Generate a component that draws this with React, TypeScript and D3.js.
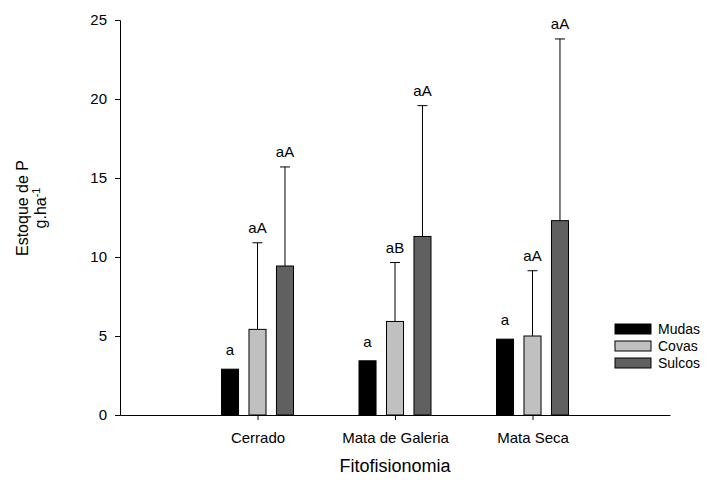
import React, { useEffect, useRef } from 'react';
import * as d3 from 'd3';

const categories = ['Cerrado', 'Mata de Galeria', 'Mata Seca'];
const seriesNames = ['Mudas', 'Covas', 'Sulcos'];
const seriesColors = ['#000000', '#c0c0c0', '#606060'];

// mean values per category, one array per series
const mudas = [2.9, 3.43, 4.8];
const covas = [5.42, 5.92, 5.0];
const sulcos = [9.43, 11.3, 12.3];

// top of the error bar (mean + error); null = no bar
const mudasErr: (number | null)[] = [null, null, null];
const covasErr: (number | null)[] = [10.9, 9.65, 9.13];
const sulcosErr: (number | null)[] = [15.7, 19.58, 23.8];

// letters over bars
const mudasLabels = ['a', 'a', 'a'];
const covasLabels = ['aA', 'aB', 'aA'];
const sulcosLabels = ['aA', 'aA', 'aA'];

const yTicks = [0, 5, 10, 15, 20, 25];

export default function App() {
    const ref = useRef<SVGSVGElement>(null);

    useEffect(() => {
        const svg = d3.select(ref.current);
        svg.selectAll('*').remove();

        const font = 'Liberation Sans, Arial, sans-serif';
        const left = 120, right = 670, top = 20, bottom = 415;

        const x = d3.scalePoint<string>().domain(categories).range([left, right]).padding(1);
        const inner = d3.scaleBand<string>().domain(seriesNames).range([-36, 36]).paddingInner(0.38).paddingOuter(0);
        const y = d3.scaleLinear().domain([0, 25]).range([bottom, top]);

        const series = [
            { name: 'Mudas', values: mudas, err: mudasErr, labels: mudasLabels },
            { name: 'Covas', values: covas, err: covasErr, labels: covasLabels },
            { name: 'Sulcos', values: sulcos, err: sulcosErr, labels: sulcosLabels },
        ];

        const g = svg.append('g');

        series.forEach((s, si) => {
            categories.forEach((c, ci) => {
                const bx = (x(c) as number) + (inner(s.name) as number);
                const bw = inner.bandwidth();
                const cx = bx + bw / 2;
                const e = s.err[ci];
                if (e != null) {
                    g.append('line')
                        .attr('x1', cx).attr('x2', cx)
                        .attr('y1', y(s.values[ci])).attr('y2', y(e))
                        .attr('stroke', '#000').attr('stroke-width', 1);
                    g.append('line')
                        .attr('x1', cx - 5).attr('x2', cx + 5)
                        .attr('y1', y(e)).attr('y2', y(e))
                        .attr('stroke', '#000').attr('stroke-width', 1);
                }
                g.append('rect')
                    .attr('x', bx).attr('y', y(s.values[ci]))
                    .attr('width', bw).attr('height', y(0) - y(s.values[ci]))
                    .attr('fill', seriesColors[si])
                    .attr('stroke', '#000').attr('stroke-width', 1);
                const topVal = e != null ? e : s.values[ci];
                g.append('text')
                    .attr('x', cx).attr('y', y(topVal) - (e != null ? 10 : 14))
                    .attr('text-anchor', 'middle')
                    .attr('font-family', font).attr('font-size', 15)
                    .text(s.labels[ci]);
            });
        });

        // y axis
        const yAxis = g.append('g')
            .attr('transform', `translate(${left},0)`)
            .call(d3.axisLeft(y).tickValues(yTicks).tickSize(5).tickPadding(8));
        yAxis.select('.domain').attr('stroke', '#000');
        yAxis.selectAll('text').attr('font-family', font).attr('font-size', 15).attr('fill', '#000');

        // x axis
        const xAxis = g.append('g')
            .attr('transform', `translate(0,${bottom})`)
            .call(d3.axisBottom(x).tickSize(5).tickSizeOuter(0).tickPadding(12));
        xAxis.select('.domain').attr('stroke', '#000');
        xAxis.selectAll('text').attr('font-family', font).attr('font-size', 15).attr('fill', '#000');

        // axis titles
        g.append('text')
            .attr('x', (left + right) / 2).attr('y', 472)
            .attr('text-anchor', 'middle')
            .attr('font-family', font).attr('font-size', 18)
            .text('Fitofisionomia');

        const yl = g.append('text')
            .attr('transform', 'translate(28,208) rotate(-90)')
            .attr('text-anchor', 'middle')
            .attr('font-family', font).attr('font-size', 16);
        yl.append('tspan').attr('x', 0).attr('y', 0).text('Estoque de P');
        const t2 = yl.append('tspan').attr('x', 0).attr('y', 18);
        t2.append('tspan').text('g.ha');
        t2.append('tspan').attr('dy', -6).attr('font-size', 11).text('-1');

        // legend
        const legend = g.append('g').attr('transform', 'translate(615,324)');
        seriesNames.forEach((n, i) => {
            legend.append('rect')
                .attr('x', 0).attr('y', i * 17)
                .attr('width', 36).attr('height', 10)
                .attr('fill', seriesColors[i])
                .attr('stroke', '#000').attr('stroke-width', 1);
            legend.append('text')
                .attr('x', 43).attr('y', i * 17 + 10)
                .attr('font-family', font).attr('font-size', 14)
                .text(n);
        });
    }, []);

    return (
        <svg ref={ref} width={707} height={480}
            style={{ position: 'absolute', left: 0, top: 0, background: '#fff' }} />
    );
}
